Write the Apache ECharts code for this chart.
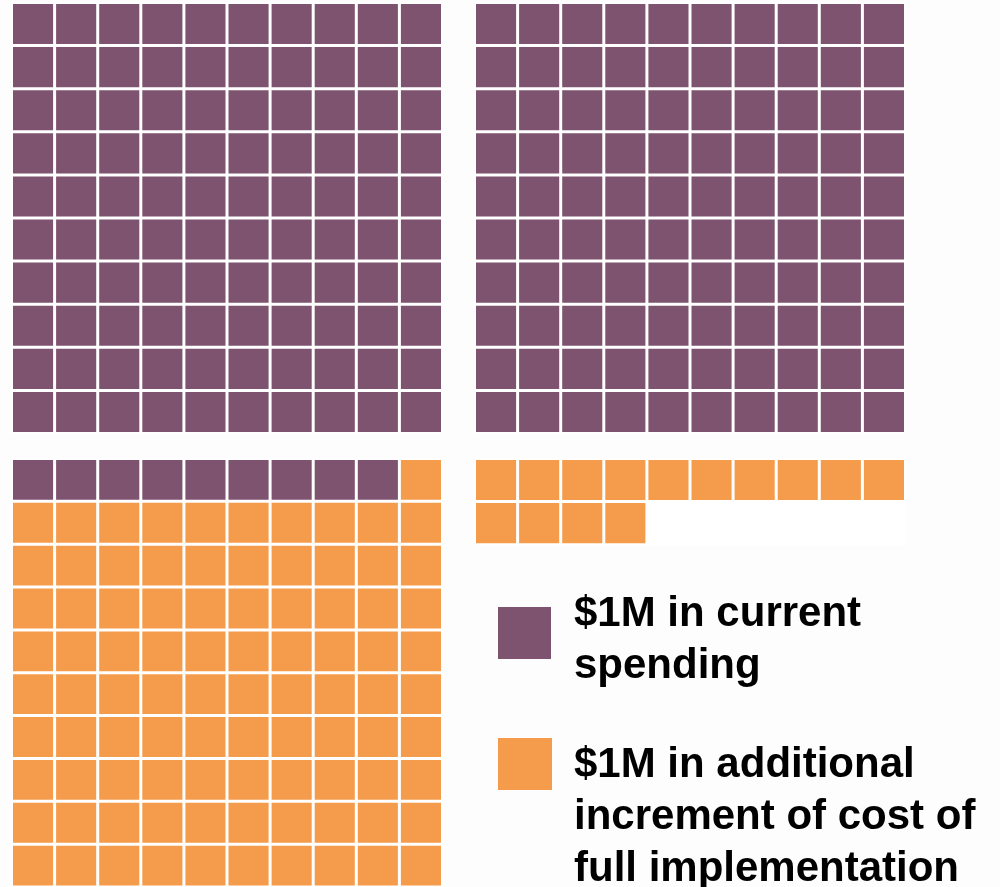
<!DOCTYPE html>
<html>
<head>
<meta charset="utf-8">
<style>
  html, body { margin: 0; padding: 0; background: #fdfdfd; }
  #chart { width: 1000px; height: 887px; }
</style>
<script src="https://cdn.jsdelivr.net/npm/echarts@6/dist/echarts.min.js"></script>
</head>
<body>
<div id="chart"></div>
<script>
// waffle data: one cell = $1M
const categories = ["$1M in current\nspending", "$1M in additional\nincrement of cost of\nfull implementation"];
const cellCounts = [209, 105];
const colors = ["#7e536f", "#f59c4c"];
const cellsPerBlock = 100;
const cols = ["0", "1", "2", "3", "4", "5", "6", "7", "8", "9"];

// block layout (grid boxes)
const blocks = [
  { left: 11.5, top: 2.5, rows: 10 },
  { left: 474.5, top: 2.5, rows: 10 },
  { left: 11.5, top: 458.5, rows: 10 },
  { left: 474.5, top: 458.5, rows: 2 },
];
const pitch = 43.1;

// fill cells in order, row by row
const blockData = blocks.map(() => []);
let idx = 0;
cellCounts.forEach((n, cat) => {
  for (let k = 0; k < n; k++) {
    const b = Math.floor(idx / cellsPerBlock);
    const r = Math.floor((idx % cellsPerBlock) / 10);
    const c = idx % 10;
    blockData[b].push([c, r, cat]);
    idx++;
  }
});

const renderCell = (params, api) => {
  const p = api.coord([api.value(0), api.value(1)]);
  const s = api.size([1, 1]);
  return {
    type: "rect",
    shape: { x: p[0] - s[0] / 2 + 1.5, y: p[1] - s[1] / 2 + 1.5, width: s[0] - 3, height: s[1] - 3 },
    style: { fill: colors[api.value(2)] },
  };
};

const chart = echarts.init(document.getElementById("chart"));
const legendFont = 'bold 42px "Liberation Sans", Arial, sans-serif';
const option = {
  backgroundColor: "#fdfdfd",
  animation: false,
  grid: blocks.map((b) => ({
    left: b.left,
    top: b.top,
    width: pitch * 10,
    height: pitch * b.rows,
    show: true,
    backgroundColor: "#ffffff",
    borderWidth: 0,
  })),
  xAxis: blocks.map((b, i) => ({
    type: "category",
    gridIndex: i,
    data: cols,
    show: false,
  })),
  yAxis: blocks.map((b, i) => ({
    type: "category",
    gridIndex: i,
    data: cols.slice(0, b.rows),
    inverse: true,
    show: false,
  })),
  series: blocks.map((b, i) => ({
    type: "custom",
    xAxisIndex: i,
    yAxisIndex: i,
    renderItem: renderCell,
    data: blockData[i],
  })),
  // legend
  graphic: [
    { type: "rect", left: 498, top: 607, shape: { width: 53, height: 52 }, style: { fill: colors[0] } },
    { type: "rect", left: 498, top: 738, shape: { width: 54, height: 52 }, style: { fill: colors[1] } },
    {
      type: "text", left: 574, top: 588,
      style: { text: categories[0], font: legendFont, lineHeight: 52, fill: "#000" },
    },
    {
      type: "text", left: 574, top: 739,
      style: { text: categories[1], font: legendFont, lineHeight: 52, fill: "#000" },
    },
  ],
};
chart.setOption(option);
</script>
</body>
</html>
